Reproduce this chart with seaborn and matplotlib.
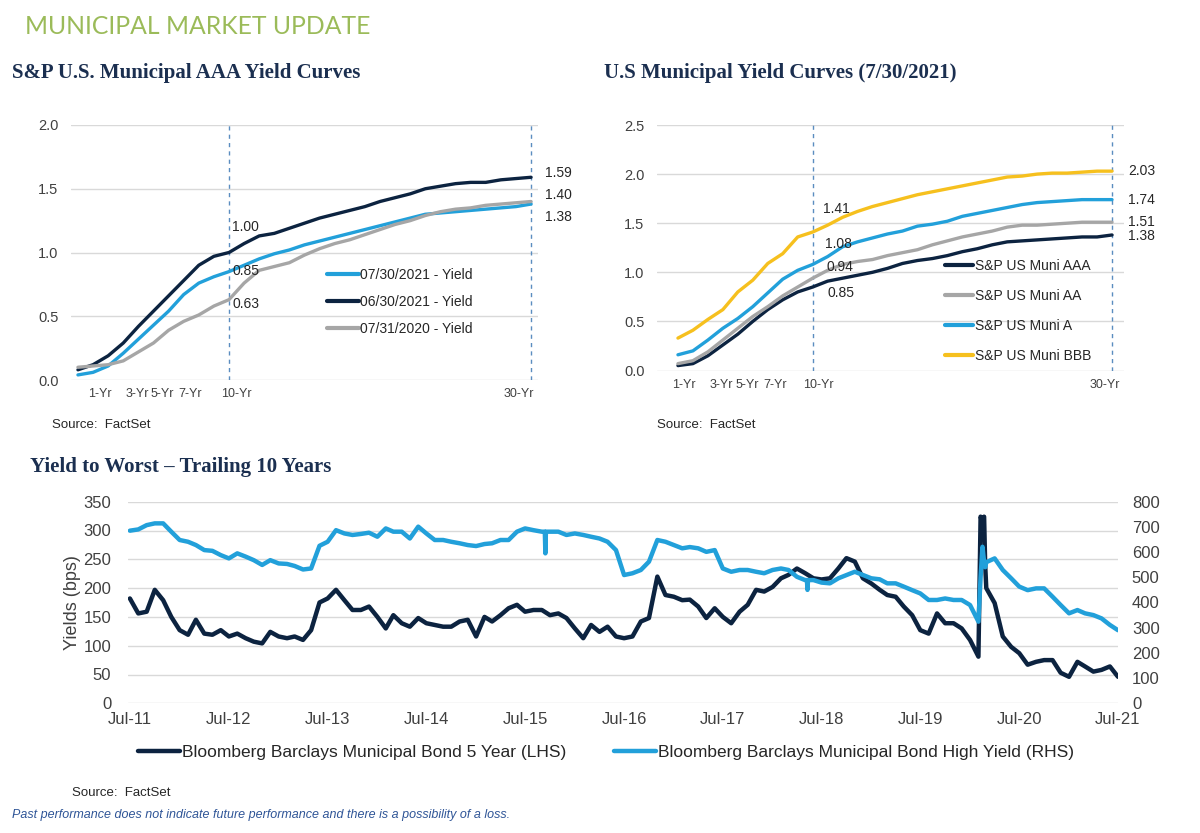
import numpy as np
import pandas as pd
import matplotlib
matplotlib.use("Agg")
import matplotlib.pyplot as plt
import matplotlib.dates as mdates
from matplotlib import font_manager
import seaborn as sns

# ---------------- Data ----------------
# S&P U.S. Municipal AAA yield curves (maturity in years)
aaa_maturity = list(range(0, 31))
yld_2021_07_30 = [0.04, 0.06, 0.11, 0.21, 0.32, 0.43, 0.54, 0.67, 0.76, 0.81, 0.85,
                  0.90, 0.95, 0.99, 1.02, 1.06, 1.09, 1.12, 1.15, 1.18, 1.21,
                  1.24, 1.27, 1.30, 1.31, 1.32, 1.33, 1.34, 1.35, 1.36, 1.38]
yld_2021_06_30 = [0.08, 0.12, 0.19, 0.29, 0.42, 0.54, 0.66, 0.78, 0.90, 0.97, 1.00,
                  1.07, 1.13, 1.15, 1.19, 1.23, 1.27, 1.30, 1.33, 1.36, 1.40,
                  1.43, 1.46, 1.50, 1.52, 1.54, 1.55, 1.55, 1.57, 1.58, 1.59]
yld_2020_07_31 = [0.10, 0.11, 0.12, 0.15, 0.22, 0.29, 0.39, 0.46, 0.51, 0.58, 0.63,
                  0.76, 0.86, 0.89, 0.92, 0.98, 1.03, 1.07, 1.10, 1.14, 1.18,
                  1.22, 1.25, 1.29, 1.32, 1.34, 1.35, 1.37, 1.38, 1.39, 1.40]
aaa_series = ["07/30/2021 - Yield", "06/30/2021 - Yield", "07/31/2020 - Yield"]

# U.S. Municipal yield curves by rating (7/30/2021)
rating_maturity = list(range(1, 31))
muni_aaa = [0.05, 0.07, 0.15, 0.26, 0.37, 0.50, 0.62, 0.72, 0.80, 0.85,
            0.91, 0.94, 0.97, 1.00, 1.04, 1.09, 1.12, 1.14, 1.17, 1.21,
            1.24, 1.28, 1.31, 1.32, 1.33, 1.34, 1.35, 1.36, 1.36, 1.38]
muni_aa = [0.07, 0.10, 0.19, 0.31, 0.43, 0.55, 0.65, 0.76, 0.85, 0.94,
           1.02, 1.08, 1.11, 1.13, 1.17, 1.20, 1.23, 1.28, 1.32, 1.36,
           1.39, 1.42, 1.46, 1.48, 1.48, 1.49, 1.50, 1.51, 1.51, 1.51]
muni_a = [0.16, 0.20, 0.31, 0.43, 0.53, 0.65, 0.79, 0.93, 1.02, 1.08,
          1.16, 1.26, 1.31, 1.35, 1.39, 1.42, 1.47, 1.49, 1.52, 1.57,
          1.60, 1.63, 1.66, 1.69, 1.71, 1.72, 1.73, 1.74, 1.74, 1.74]
muni_bbb = [0.33, 0.41, 0.52, 0.62, 0.80, 0.92, 1.09, 1.19, 1.36, 1.41,
            1.48, 1.56, 1.62, 1.67, 1.71, 1.75, 1.79, 1.82, 1.85, 1.88,
            1.91, 1.94, 1.97, 1.98, 2.00, 2.01, 2.01, 2.02, 2.03, 2.03]
rating_series = ["S&P US Muni AAA", "S&P US Muni AA", "S&P US Muni A", "S&P US Muni BBB"]

# Yield to worst, monthly Jul-2011 .. Jul-2021 (bps)
ytw_dates = pd.date_range("2011-07-01", "2021-07-01", freq="MS")
muni5_bps = [182, 156, 159, 197, 179, 150, 127, 119, 145, 121,
             119, 127, 116, 121, 113, 107, 104, 124, 116, 113,
             116, 110, 127, 175, 182, 197, 179, 162, 162, 168,
             150, 130, 153, 139, 133, 148, 139, 136, 133, 133,
             142, 145, 116, 150, 142, 153, 165, 171, 159, 162,
             162, 153, 156, 148, 130, 113, 136, 124, 133, 116,
             113, 116, 142, 148, 220, 188, 185, 179, 180, 168,
             148, 165, 150, 139, 159, 171, 197, 194, 202, 217,
             223, 234, 226, 217, 215, 217, 234, 252, 246, 217,
             208, 197, 188, 185, 168, 153, 127, 121, 156, 139,
             139, 130, 110, 81, 200, 174, 116, 98, 87, 67,
             72, 75, 75, 53, 46, 72, 64, 55, 58, 64, 46]
hy_bps = [685, 690, 707, 714, 714, 681, 648, 641, 628, 608,
          605, 588, 575, 595, 582, 568, 549, 568, 555, 553,
          545, 531, 535, 625, 641, 687, 674, 668, 672, 677,
          661, 694, 681, 681, 654, 701, 674, 648, 648, 641,
          635, 628, 624, 632, 635, 648, 648, 681, 694, 687,
          681, 681, 681, 668, 674, 668, 661, 654, 641, 608,
          509, 516, 529, 562, 648, 641, 628, 615, 620, 615,
          601, 608, 535, 522, 529, 529, 522, 516, 529, 535,
          529, 502, 489, 489, 479, 476, 496, 509, 522, 509,
          496, 492, 476, 476, 463, 449, 436, 410, 410, 416,
          410, 410, 390, 324, 560, 575, 529, 496, 463, 449,
          456, 456, 423, 390, 357, 370, 357, 350, 337, 311, 290]
# extra readings at the sharp moves
muni5_extra_dates = ["2020-02-09", "2020-02-14", "2020-02-22", "2020-02-26"]
muni5_extra_bps = [324, 318, 324, 240]
hy_extra_dates = ["2015-09-12", "2015-09-14", "2015-09-16",
                  "2018-05-08", "2018-05-10", "2018-05-12",
                  "2020-02-09", "2020-02-16", "2020-02-22", "2020-02-26"]
hy_extra_bps = [681, 595, 681, 489, 450, 489, 500, 621, 560, 540]

# ---------------- Style ----------------
NAVY = "#0C2340"
LBLUE = "#22A0DA"
GRAY = "#A6A6A6"
GOLD = "#F6C01E"
GRID = "#D9D9D9"
DASH = "#5B8DC0"
TXT = "#404040"
TITLE = "#1B2F50"

sns.set_theme(style="white")
plt.rcParams['font.family'] = ['Liberation Sans', 'DejaVu Sans']
names = {f.name for f in font_manager.fontManager.ttflist}
NARROW = 'Liberation Sans Narrow' if 'Liberation Sans Narrow' in names else 'Liberation Sans'

W, H = 1200, 833
fig = plt.figure(figsize=(W / 100, H / 100), dpi=100)


def ax_px(l, t, r, b):
    return fig.add_axes([l / W, 1 - b / H, (r - l) / W, (b - t) / H])


def style_curve_axes(ax, ymax, ticks_pos):
    ax.set_ylim(0, ymax)
    ax.set_yticks(np.arange(0, ymax + 0.01, 0.5))
    ax.set_yticklabels([f"{v:.1f}" for v in np.arange(0, ymax + 0.01, 0.5)],
                       fontsize=10.5, color=TXT)
    ax.yaxis.grid(True, color=GRID, lw=1)
    ax.xaxis.grid(False)
    sns.despine(ax=ax, left=True, bottom=True)
    ax.tick_params(axis="both", length=0)
    ax.tick_params(axis="y", pad=9)
    ax.set_xticks(ticks_pos)
    ax.set_xticklabels(["1-Yr", "3-Yr", "5-Yr", "7-Yr", "10-Yr", "30-Yr"],
                       fontsize=9, color=TXT, family=[NARROW, 'DejaVu Sans'])
    ax.tick_params(axis="x", pad=6)
    ax.set_xlabel("")
    ax.set_ylabel("")


# ---- Top-left chart ----
ax1 = ax_px(71, 125, 538, 380)
df1 = pd.DataFrame({
    "Maturity": aaa_maturity * 3,
    "Yield": yld_2021_07_30 + yld_2021_06_30 + yld_2020_07_31,
    "Series": sum([[s] * len(aaa_maturity) for s in aaa_series], []),
})
ax1.axvline(10, color=DASH, ls=(0, (3, 3)), lw=1)
ax1.axvline(30, color=DASH, ls=(0, (3, 3)), lw=1)
sns.lineplot(data=df1, x="Maturity", y="Yield", hue="Series", hue_order=aaa_series,
             palette=[LBLUE, NAVY, GRAY], linewidth=2.4, ax=ax1)
ax1.set_xlim(-0.46, 30.46)
style_curve_axes(ax1, 2.0, [1.45, 3.95, 5.6, 7.4, 10.5, 29.2])
h, l = ax1.get_legend_handles_labels()
ax1.legend(h, l, loc="upper left", bbox_to_anchor=(0.548, 0.44), frameon=False,
           fontsize=10, handlelength=2.3, handletextpad=0.1, labelspacing=0.95,
           borderpad=0, borderaxespad=0)
for leg_line in ax1.get_legend().get_lines():
    leg_line.set_linewidth(3)
for x, y, s in [(10.2, 1.20, "1.00"), (10.2, 0.855, "0.85"), (10.2, 0.60, "0.63"),
                (30.9, 1.62, "1.59"), (30.9, 1.45, "1.40"), (30.9, 1.28, "1.38")]:
    ax1.text(x, y, s, fontsize=10, color="#262626", ha="left", va="center", clip_on=False)

# ---- Top-right chart ----
ax2 = ax_px(657, 125, 1124, 370.5)
df2 = pd.DataFrame({
    "Maturity": rating_maturity * 4,
    "Yield": muni_aaa + muni_aa + muni_a + muni_bbb,
    "Series": sum([[s] * len(rating_maturity) for s in rating_series], []),
})
ax2.axvline(10, color=DASH, ls=(0, (3, 3)), lw=1)
ax2.axvline(30, color=DASH, ls=(0, (3, 3)), lw=1)
sns.lineplot(data=df2, x="Maturity", y="Yield", hue="Series", hue_order=rating_series,
             palette=[NAVY, GRAY, LBLUE, GOLD], linewidth=2.4, ax=ax2)
ax2.set_xlim(-0.4, 30.8)
style_curve_axes(ax2, 2.5, [1.4, 3.9, 5.6, 7.5, 10.4, 29.5])
h, l = ax2.get_legend_handles_labels()
ax2.legend(h, l, loc="upper left", bbox_to_anchor=(0.617, 0.455), frameon=False,
           fontsize=10, handlelength=2.0, handletextpad=0.15, labelspacing=1.15,
           borderpad=0, borderaxespad=0)
for leg_line in ax2.get_legend().get_lines():
    leg_line.set_linewidth(3)
for x, y, s in [(10.7, 1.64, "1.41"), (10.8, 1.29, "1.08"), (10.9, 1.05, "0.94"),
                (11.0, 0.79, "0.85"), (31.1, 2.03, "2.03"), (31.1, 1.74, "1.74"),
                (31.1, 1.51, "1.51"), (31.1, 1.37, "1.38")]:
    ax2.text(x, y, s, fontsize=10, color="#262626", ha="left", va="center", clip_on=False)

# ---- Bottom chart ----
ax3 = ax_px(128, 501.7, 1118, 703.3)
muni5 = pd.DataFrame({
    "Date": list(ytw_dates) + list(pd.to_datetime(muni5_extra_dates)),
    "bps": muni5_bps + muni5_extra_bps,
}).sort_values("Date")
hy = pd.DataFrame({
    "Date": list(ytw_dates) + list(pd.to_datetime(hy_extra_dates)),
    "bps": hy_bps + hy_extra_bps,
}).sort_values("Date")
sns.lineplot(data=muni5, x="Date", y="bps", color=NAVY, linewidth=3.2, ax=ax3,
             label="Bloomberg Barclays Municipal Bond 5 Year (LHS)", legend=False)
ax4 = ax3.twinx()
sns.lineplot(data=hy, x="Date", y="bps", color=LBLUE, linewidth=3.2, ax=ax4,
             label="Bloomberg Barclays Municipal Bond High Yield (RHS)", legend=False)
ax3.set_ylim(0, 350)
ax3.set_yticks(range(0, 351, 50))
ax4.set_ylim(0, 800)
ax4.set_yticks(range(0, 801, 100))
ax4.grid(False)
ax3.yaxis.grid(True, color=GRID, lw=1)
ax3.xaxis.grid(False)
ax3.set_xlim(pd.Timestamp("2011-06-24"), pd.Timestamp("2021-07-01"))
ax3.set_xticks(pd.date_range("2011-07-01", "2021-07-01", freq="12MS"))
ax3.xaxis.set_major_formatter(mdates.DateFormatter("%b-%y"))
for a in (ax3, ax4):
    for sp in a.spines.values():
        sp.set_visible(False)
    a.tick_params(length=0, labelsize=12, labelcolor=TXT)
ax3.tick_params(axis="y", pad=12)
ax4.tick_params(axis="y", pad=10)
ax3.tick_params(axis="x", pad=6)
ax3.set_xlabel("")
ax4.set_xlabel("")
ax4.set_ylabel("")
ax3.set_ylabel("Yields (bps)", fontsize=13, color=TXT, labelpad=2)
fig.legend(handles=[ax3.get_lines()[0], ax4.get_lines()[0]],
           labels=["Bloomberg Barclays Municipal Bond 5 Year (LHS)",
                   "Bloomberg Barclays Municipal Bond High Yield (RHS)"],
           loc="center", bbox_to_anchor=(0.505, 1 - 752 / H), ncol=2, frameon=False,
           fontsize=12.5, handlelength=2.4, handletextpad=0.1, columnspacing=2.8)

# ---- Texts ----
fig.text(25 / W, 1 - 27 / H, "MUNICIPAL MARKET UPDATE", color="#9BBB59", fontsize=17.8,
         family=["Lato", "Open Sans", "DejaVu Sans"], fontweight="normal", va="center")
for x, y, s in [(12, 73, "S&P U.S. Municipal AAA Yield Curves"),
                (604, 73, "U.S Municipal Yield Curves (7/30/2021)"),
                (30, 467, "Yield to Worst \u2013 Trailing 10 Years")]:
    fig.text(x / W, 1 - y / H, s, color=TITLE, fontsize=15, fontweight="bold",
             family=["Liberation Serif", "DejaVu Serif"], va="center")
for x, y in [(52, 425), (657, 425), (72, 793)]:
    fig.text(x / W, 1 - y / H, "Source:  FactSet", color="#262626", fontsize=9.5, va="center")
fig.text(12 / W, 1 - 815 / H,
         "Past performance does not indicate future performance and there is a possibility of a loss.",
         color="#2F5597", fontsize=9, style="italic", va="center")

fig.savefig("out.png", dpi=100, facecolor="white")
